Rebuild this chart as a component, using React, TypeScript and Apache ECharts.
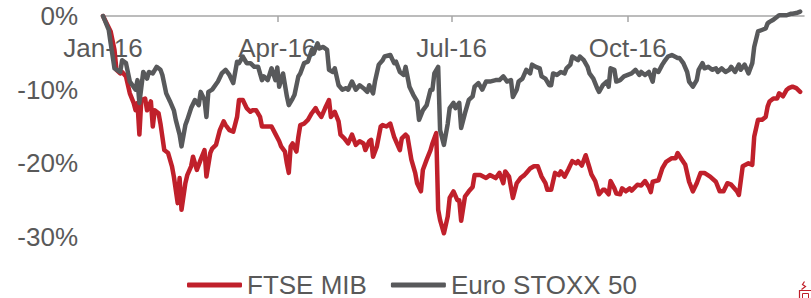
import React, { useEffect, useRef } from "react";
import * as echarts from "echarts";

// Day of year 2016 (0 = 1 Jan) and cumulative performance, %
const stoxxDays = [
  0, 3, 4, 6, 9, 10, 12, 14, 17, 18,
  19, 21, 23, 24, 26, 28, 30, 31, 33, 35,
  37, 38, 40, 41, 43, 44, 46, 48, 50, 51,
  53, 54, 55, 57, 60, 62, 64, 66, 68, 70,
  71, 73, 75, 77, 79, 81, 83, 84, 86, 88,
  90, 91, 92, 94, 96, 97, 99, 100, 102, 103,
  105, 107, 109, 110, 112, 113, 115, 117, 118, 120,
  121, 123, 125, 127, 128, 130, 132, 134, 136, 138,
  139, 141, 142, 144, 146, 147, 150, 152, 153, 155,
  157, 158, 160, 162, 164, 165, 167, 169, 171, 172,
  173, 175, 176, 178, 180, 181, 183, 184, 186, 187,
  189, 191, 193, 194, 196, 198, 200, 202, 205, 207,
  209, 211, 213, 214, 216, 217, 219, 221, 223, 224,
  226, 228, 229, 231, 233, 234, 235, 237, 239, 241,
  242, 244, 245, 248, 249, 251, 253, 254, 256, 258,
  259, 261, 263, 264, 265, 267, 268, 270, 272, 274,
  276, 278, 280, 281, 283, 285, 287, 288, 290, 292,
  293, 295, 297, 300, 301, 303, 305, 306, 308, 310,
  311, 313, 314, 316, 318, 320, 321, 323, 325, 327,
  328, 330, 332, 333, 335, 337, 339, 340, 342, 344,
  346, 347, 348, 350, 352, 353, 355, 357, 359, 360,
  362, 364,
];
const stoxxValues = [
  0, -1.9, -3.7, -7.1, -7.6, -6.0, -6.4, -8.9, -10.0, -8.7,
  -11.8, -7.6, -8.5, -7.6, -7.8, -6.9, -7.3, -8.0, -10.5, -11.6,
  -12.8, -14.1, -16.1, -17.7, -14.8, -14.1, -12.5, -11.4, -12.1, -10.3,
  -11.4, -13.7, -10.3, -10.0, -8.9, -7.8, -7.3, -8.0, -9.1, -6.2,
  -6.4, -5.5, -6.4, -6.4, -6.9, -6.9, -8.7, -8.2, -8.7, -7.1,
  -8.7, -7.0, -9.6, -7.8, -10.9, -12.1, -11.2, -10.7, -8.2, -7.8,
  -6.4, -6.2, -4.6, -5.1, -3.7, -4.4, -4.2, -4.6, -7.3, -7.6,
  -7.1, -9.4, -10.0, -9.8, -10.0, -8.9, -10.0, -9.4, -9.8, -10.3,
  -9.4, -10.5, -8.9, -6.6, -6.0, -5.5, -5.3, -6.4, -6.2, -7.6,
  -8.0, -6.9, -9.6, -10.7, -11.6, -14.1, -12.8, -12.1, -10.0, -10.0,
  -7.8, -6.9, -15.5, -17.5, -14.6, -12.5, -11.8, -12.5, -11.8, -15.2,
  -13.2, -11.4, -10.9, -9.6, -9.1, -10.0, -8.9, -8.9, -8.7, -8.7,
  -8.2, -8.9, -8.7, -11.0, -10.0, -8.9, -8.5, -7.3, -7.8, -6.6,
  -6.9, -7.1, -8.2, -8.5, -9.4, -9.4, -7.8, -8.0, -7.6, -7.8,
  -7.1, -6.6, -5.5, -6.0, -5.5, -6.0, -6.9, -7.8, -8.5, -9.8,
  -10.3, -9.4, -8.9, -9.6, -7.1, -7.3, -8.9, -8.7, -8.2, -8.0,
  -7.8, -7.3, -8.0, -7.6, -8.0, -7.6, -8.9, -7.3, -7.6, -6.6,
  -6.2, -5.5, -5.3, -5.7, -5.7, -6.4, -7.6, -8.9, -9.6, -8.7,
  -7.3, -6.4, -7.1, -6.9, -7.3, -7.1, -7.6, -7.1, -7.6, -7.3,
  -6.9, -7.6, -6.6, -7.3, -6.6, -7.8, -6.4, -4.2, -2.1, -1.9,
  -1.7, -1.0, -0.8, -0.5, -0.1, 0.1, 0.1, 0.1, 0.3, 0.3,
  0.4, 0.6,
];

const ftseDays = [
  0, 4, 6, 7, 9, 10, 12, 14, 16, 17,
  18, 19, 20, 22, 23, 25, 26, 27, 29, 30,
  32, 34, 36, 37, 39, 40, 41, 43, 44, 46,
  47, 49, 51, 53, 54, 56, 57, 59, 61, 63,
  64, 66, 68, 70, 71, 73, 75, 77, 78, 80,
  82, 83, 85, 88, 90, 92, 93, 95, 96, 97,
  98, 99, 101, 102, 103, 105, 107, 109, 111, 112,
  114, 116, 118, 119, 121, 123, 124, 126, 128, 130,
  132, 134, 136, 137, 139, 140, 141, 143, 145, 146,
  148, 150, 152, 153, 155, 156, 158, 159, 161, 163,
  164, 166, 167, 169, 171, 172, 174, 175, 176, 178,
  180, 181, 183, 185, 186, 187, 189, 191, 193, 194,
  197, 200, 202, 205, 207, 209, 210, 212, 214, 216,
  218, 220, 221, 223, 225, 227, 229, 231, 232, 234,
  236, 238, 239, 241, 243, 245, 247, 248, 250, 252,
  254, 255, 257, 259, 261, 262, 264, 265, 267, 268,
  270, 271, 273, 275, 276, 279, 281, 283, 285, 286,
  287, 290, 292, 294, 297, 299, 300, 302, 304, 306,
  308, 310, 312, 314, 317, 320, 322, 324, 326, 328,
  331, 332, 334, 337, 339, 340, 342, 344, 346, 347,
  348, 350, 352, 353, 355, 357, 358, 360, 362, 364,
];
const ftseValues = [
  0, -2.1, -4.6, -7.3, -7.8, -7.6, -8.2, -10.5, -11.8, -12.8,
  -11.8, -16.1, -11.4, -11.2, -12.8, -11.6, -15.0, -12.8, -13.2, -14.6,
  -18.2, -18.6, -20.4, -21.8, -25.4, -22.0, -26.3, -22.7, -21.6, -20.4,
  -19.1, -20.9, -19.5, -18.2, -21.8, -18.6, -18.0, -17.5, -15.5, -14.3,
  -14.8, -15.5, -15.7, -13.7, -11.4, -11.4, -12.5, -13.0, -12.8, -12.8,
  -13.7, -15.0, -15.0, -15.0, -16.0, -17.0, -17.7, -18.4, -20.0, -21.3,
  -17.7, -17.3, -18.4, -16.4, -14.8, -14.6, -14.1, -13.2, -12.5, -13.0,
  -13.7, -12.5, -11.4, -13.7, -13.0, -14.3, -16.1, -16.6, -17.3, -16.1,
  -17.5, -17.0, -17.3, -18.2, -17.0, -16.8, -19.1, -17.7, -15.0, -14.8,
  -15.0, -14.6, -16.4, -17.0, -18.2, -16.6, -16.1, -16.4, -19.5, -21.3,
  -22.7, -23.8, -20.9, -19.5, -18.2, -17.3, -15.9, -26.3, -27.7, -29.5,
  -27.2, -24.7, -23.8, -25.0, -25.0, -27.8, -24.5, -23.8, -23.2, -21.6,
  -21.6, -22.0, -21.6, -22.0, -21.3, -22.7, -21.1, -21.8, -24.7, -22.7,
  -22.0, -21.6, -21.3, -20.7, -20.4, -20.4, -21.8, -22.7, -23.6, -23.6,
  -21.3, -21.6, -21.1, -21.8, -20.8, -19.7, -20.0, -19.7, -20.3, -18.9,
  -20.6, -21.5, -22.4, -24.2, -23.6, -23.6, -24.2, -22.4, -23.4, -24.1,
  -24.2, -23.4, -23.8, -23.4, -23.7, -22.9, -23.0, -22.4, -23.2, -23.9,
  -22.5, -22.3, -20.7, -19.8, -19.3, -19.3, -18.6, -19.4, -20.2, -22.5,
  -23.8, -22.7, -21.3, -21.3, -21.8, -22.5, -23.8, -23.8, -22.7, -22.9,
  -23.8, -24.3, -20.4, -20.0, -20.2, -16.4, -14.1, -14.1, -13.7, -12.3,
  -11.6, -11.2, -11.2, -10.5, -10.9, -10.0, -9.8, -9.6, -9.8, -10.3,
];

const xTickDays = [0, 91, 182, 274];
const xTickLabels = ["Jan-16", "Apr-16", "Jul-16", "Oct-16"];
const seriesNames = ["FTSE MIB", "Euro STOXX 50"];

const FONT = 'Arial, "Liberation Sans", sans-serif';
const TEXT = "#595959";
const RED = "#C0202B";
const GREY = "#58595B";

function zip(days: number[], vals: number[]) {
  const n = Math.min(days.length, vals.length);
  const out: number[][] = [];
  for (let i = 0; i < n; i++) out.push([days[i], vals[i]]);
  return out;
}

export default function App() {
  const ref = useRef<HTMLDivElement>(null);
  useEffect(() => {
    if (!ref.current) return;
    const chart = echarts.init(ref.current, undefined, { renderer: "svg" });
    chart.setOption({
      animation: false,
      grid: { left: 103, right: 7, top: 16, bottom: 61, outerBoundsMode: "none" },
      xAxis: {
        type: "value",
        position: "top",
        min: 0,
        max: 366,
        axisLine: { onZero: false, lineStyle: { color: "#A6A6A6", width: 1.5 } },
        axisTick: {
          show: true,
          inside: true,
          customValues: xTickDays.slice(1),
          length: 6,
          lineStyle: { color: "#A6A6A6", width: 1.5 },
        },
        axisLabel: {
          inside: true,
          customValues: xTickDays,
          formatter: (v: number) => {
            const i = xTickDays.indexOf(Math.round(v));
            return i >= 0 ? xTickLabels[i] : "";
          },
          margin: 19,
          fontSize: 26,
          color: TEXT,
          fontFamily: FONT,
        },
        splitLine: { show: false },
      },
      yAxis: {
        type: "value",
        min: -30,
        max: 0,
        interval: 10,
        axisLine: { show: false },
        axisTick: { show: false },
        splitLine: { show: false },
        axisLabel: {
          formatter: "{value}%",
          margin: 25,
          fontSize: 26,
          color: TEXT,
          fontFamily: FONT,
        },
      },
      legend: {
        data: seriesNames,
        left: 187,
        top: 272,
        padding: 0,
        itemWidth: 55,
        itemHeight: 5,
        itemGap: 24,
        icon: "roundRect",
        textStyle: { fontSize: 26, lineHeight: 20, color: TEXT, fontFamily: FONT },
      },
      series: [
        {
          name: seriesNames[0],
          type: "line",
          data: zip(ftseDays, ftseValues),
          showSymbol: false,
          symbol: "none",
          clip: false,
          color: RED,
          lineStyle: { color: RED, width: 4.5, cap: "round", join: "round" },
        },
        {
          name: seriesNames[1],
          type: "line",
          data: zip(stoxxDays, stoxxValues),
          showSymbol: false,
          symbol: "none",
          clip: false,
          color: GREY,
          lineStyle: { color: GREY, width: 4.5, cap: "round", join: "round" },
        },
      ],
      graphic: [
        {
          type: "group",
          left: 797,
          top: 279,
          children: [
            { type: "polyline", shape: { points: [[6, 0], [4, 3], [7, 5], [3, 8]] }, style: { stroke: RED, fill: "none", lineWidth: 1.2 } },
            { type: "rect", shape: { x: 1, y: 9, width: 13, height: 10 }, style: { stroke: RED, fill: "none", lineWidth: 1.2 } },
            { type: "rect", shape: { x: 4, y: 12, width: 6, height: 6 }, style: { stroke: RED, fill: "none", lineWidth: 1 } },
          ],
        },
      ],
    });
    return () => chart.dispose();
  }, []);
  return (
    <div
      ref={ref}
      style={{ position: "fixed", left: 0, top: 0, width: 811, height: 298, background: "#fff" }}
    />
  );
}
